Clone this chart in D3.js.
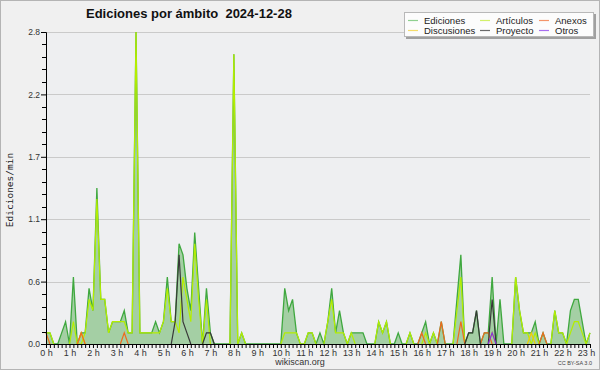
<!DOCTYPE html>
<html>
<head>
<meta charset="utf-8">
<script src="https://cdn.jsdelivr.net/npm/d3@7/dist/d3.min.js"></script>
<style>
  body { margin: 0; background: #fff; }
  svg { display: block; }
  text { font-family: "Liberation Sans", Arial, sans-serif; }
</style>
</head>
<body>
<div id="chart"></div>
<script>
// edits per minute, 10 minute buckets from 0:00
var ediciones = [
  0.1,0.1,0,0,0.1,0.2,0,0.6,0,0.1,0.1,0.5,
  0.3,1.4,0.4,0.4,0.1,0.2,0.2,0.2,0.3,0.1,0.1,2.8,
  0.1,0.1,0.1,0.1,0.2,0.1,0.2,0.6,0.2,0.2,0.9,0.8,
  0.5,0.3,1.0,0.5,0,0.5,0.1,0,0,0,0,0,
  2.6,0,0.1,0,0,0,0,0,0,0,0,0,
  0,0.5,0.3,0.4,0.1,0,0,0.1,0.1,0,0.1,0,
  0.2,0.5,0.1,0.3,0.1,0,0.1,0.1,0.1,0.1,0,0,
  0,0.2,0.1,0.2,0,0,0.1,0,0,0.1,0,0,
  0.1,0.2,0,0.1,0,0.2,0,0,0,0.4,0.8,0,
  0.1,0.1,0.3,0,0.1,0.1,0.6,0,0.4,0,0,0,
  0.6,0.3,0.1,0.1,0.1,0.2,0,0.1,0,0,0.3,0.1,
  0.1,0,0.3,0.4,0.4,0.2,0,0.1
];
var articulos = [
  0.1,0.1,0,0,0,0,0,0.2,0,0,0.1,0.4,
  0.3,1.3,0.4,0.4,0.1,0.2,0.2,0.2,0.2,0.1,0.1,2.8,
  0.1,0.1,0.1,0.1,0.1,0.1,0.2,0.5,0.2,0.2,0.1,0.6,
  0.4,0.2,0.9,0.4,0,0.4,0,0,0,0,0,0,
  2.6,0,0.1,0,0,0,0,0,0,0,0,0,
  0,0.1,0.1,0.1,0.1,0,0,0.1,0.1,0,0,0,
  0.2,0.4,0.1,0.1,0.1,0,0.1,0,0,0,0,0,
  0,0.2,0.1,0.2,0,0,0,0,0,0.1,0,0,
  0,0.1,0,0.1,0,0,0,0,0,0.3,0.6,0,
  0,0,0,0,0,0,0.1,0,0,0,0,0,
  0.6,0.3,0.1,0.1,0,0.1,0,0,0,0,0.3,0.1,
  0.1,0,0.1,0.2,0.2,0.1,0,0.1
];
var anexos = [
  0.1,0,0,0,0,0,0,0,0,0.1,0,0,
  0,0,0,0,0,0,0,0,0.1,0,0,0,
  0,0,0,0,0,0,0,0,0,0,0,0,
  0,0,0,0,0,0,0,0,0,0,0,0,
  0,0,0,0,0,0,0,0,0,0,0,0,
  0,0,0,0,0,0,0,0,0,0,0,0,
  0,0,0,0,0,0,0,0,0,0,0,0,
  0,0,0,0,0,0,0,0,0,0,0,0,
  0.1,0,0,0,0,0.2,0,0,0,0,0.2,0,
  0,0,0,0,0.1,0.1,0,0,0,0,0,0,
  0,0,0,0,0,0,0,0.1,0,0,0,0,
  0,0,0,0,0,0,0,0
];
var discusiones = [
  0,0,0,0,0,0,0,0,0,0.1,0,0,
  0,0,0,0,0,0,0,0,0,0,0,0,
  0,0,0,0,0,0,0,0,0,0,0,0,
  0,0,0,0,0,0,0,0,0,0,0,0,
  0,0,0,0,0,0,0,0,0,0,0,0,
  0,0,0,0,0,0,0,0,0,0,0,0,
  0,0,0,0,0,0,0,0,0,0,0,0,
  0,0,0,0,0,0,0,0,0,0,0,0,
  0,0,0,0,0,0,0,0,0,0,0,0,
  0,0,0,0,0,0,0,0,0,0,0,0,
  0,0,0,0,0.1,0,0,0,0,0,0,0,
  0,0,0,0,0,0,0,0
];
var proyecto = [
  0,0,0,0,0,0,0,0,0,0,0,0,
  0,0,0,0,0,0,0,0,0,0,0,0,
  0,0,0,0,0,0,0,0,0,0.2,0.8,0.2,
  0.1,0,0,0,0,0.1,0.1,0,0,0,0,0,
  0,0,0,0,0,0,0,0,0,0,0,0,
  0,0,0,0,0,0,0,0,0,0,0,0,
  0,0,0,0,0,0,0,0,0,0,0,0,
  0,0,0,0,0,0,0,0,0,0,0,0,
  0,0,0,0,0,0,0,0,0,0,0,0,
  0.1,0.1,0.3,0,0,0,0.4,0,0,0,0,0,
  0,0,0,0,0,0,0,0,0,0,0,0,
  0,0,0,0,0,0,0,0
];
var otros = [
  0,0,0,0,0,0,0,0,0,0,0,0,
  0,0,0,0,0,0,0,0,0,0,0,0,
  0,0,0,0,0,0,0,0,0,0,0,0,
  0,0,0,0,0,0,0,0,0,0,0,0,
  0,0,0,0,0,0,0,0,0,0,0,0,
  0,0,0,0,0,0,0,0,0,0,0,0,
  0,0,0,0,0,0,0,0,0,0,0,0,
  0,0,0,0,0,0,0,0,0,0,0,0,
  0,0,0,0,0,0,0,0,0,0,0,0,
  0,0,0,0,0,0,0.1,0,0,0,0,0,
  0,0,0,0,0,0,0,0,0,0,0,0,
  0,0,0,0,0,0,0,0
];
var hourLabels = ["0 h","1 h","2 h","3 h","4 h","5 h","6 h","7 h","8 h","9 h","10 h","11 h",
  "12 h","13 h","14 h","15 h","16 h","17 h","18 h","19 h","20 h","21 h","22 h","23 h"];
var yTickValues = [0, 0.56, 1.12, 1.68, 2.24, 2.8];
var seriesNames = ["Ediciones", "Discusiones", "Artículos", "Proyecto", "Anexos", "Otros"];
var seriesColors = ["#3fa83f", "#f0d000", "#b4ee00", "#383838", "#f06a1e", "#8a2be2"];
var legendColors = ["#8fd08f", "#f5dc6a", "#d2f06a", "#6a6a6a", "#f4946a", "#a86ef0"];

var W = 600, H = 370;
var margin = { top: 32, right: 10, bottom: 26, left: 46 };
var width = W - margin.left - margin.right;
var height = H - margin.top - margin.bottom;

var svg = d3.select("#chart").append("svg")
  .attr("width", W)
  .attr("height", H);

// outer frame
svg.append("rect").attr("x", 0).attr("y", 0).attr("width", W).attr("height", H).attr("fill", "#f0f0f0");
svg.append("rect").attr("x", 0.5).attr("y", 0.5).attr("width", W - 1).attr("height", H - 1)
  .attr("fill", "none").attr("stroke", "#b4b4b4");

var g = svg.append("g").attr("transform", "translate(" + margin.left + "," + margin.top + ")");

g.append("rect").attr("width", width).attr("height", height).attr("fill", "#eeeff1");

var xScale = d3.scaleLinear().domain([0, ediciones.length - 1]).range([0, width]);
var yScale = d3.scaleLinear().domain([0, 2.8]).range([height, 0]);

// grid
g.append("g").attr("class", "grid")
  .selectAll("line").data(yTickValues.slice(1)).enter().append("line")
  .attr("x1", 0).attr("x2", width)
  .attr("y1", function(d) { return Math.round(yScale(d)) + 0.5; })
  .attr("y2", function(d) { return Math.round(yScale(d)) + 0.5; })
  .attr("stroke", "#cacaca");

// series
var area = d3.area()
  .x(function(d, i) { return xScale(i); })
  .y0(height)
  .y1(function(d) { return yScale(d); });
var line = d3.line()
  .x(function(d, i) { return xScale(i); })
  .y(function(d) { return yScale(d); });

g.append("path").datum(ediciones).attr("d", area).attr("fill", "#a4cfa4");
g.append("path").datum(ediciones).attr("d", line).attr("fill", "none")
  .attr("stroke", seriesColors[0]).attr("stroke-width", 1.3);

var overlays = [
  [articulos, seriesColors[2]],
  [discusiones, seriesColors[1]],
  [anexos, seriesColors[4]],
  [proyecto, seriesColors[3]],
  [otros, seriesColors[5]]
];
overlays.forEach(function(s) {
  var vals = s[0];
  // only draw the stretches that leave the baseline
  var segs = [], cur = null;
  vals.forEach(function(v, i) {
    var near = v > 0 || (i > 0 && vals[i - 1] > 0) || (i < vals.length - 1 && vals[i + 1] > 0);
    if (near) { if (!cur) { cur = []; segs.push(cur); } cur.push(i); }
    else cur = null;
  });
  segs.forEach(function(seg) {
    g.append("path").datum(seg)
      .attr("d", d3.line()
        .x(function(i) { return xScale(i); })
        .y(function(i) { return yScale(vals[i]); }))
      .attr("fill", "none").attr("stroke", s[1]).attr("stroke-width", 1.2);
  });
});

// y axis
var yAxis = d3.axisLeft(yScale)
  .tickValues(yTickValues)
  .tickSize(5)
  .tickPadding(1)
  .tickFormat(d3.format(".1f"));
var yAxisG = g.append("g").attr("class", "yAxisG").call(yAxis);
yAxisG.select(".domain").attr("stroke", "#000");
yAxisG.selectAll(".tick line").attr("stroke", "#000");
yAxisG.selectAll(".tick text").attr("fill", "#333").style("font-size", "8.5px");
var minor = [];
yTickValues.forEach(function(v, i) {
  if (i == 0) return;
  for (var k = 1; k < 5; k++) minor.push(yTickValues[i - 1] + k * 0.112);
});
yAxisG.selectAll("line.minor").data(minor).enter().append("line")
  .attr("class", "minor")
  .attr("x1", -4).attr("x2", 0)
  .attr("y1", function(d) { return Math.round(yScale(d)) + 0.5; })
  .attr("y2", function(d) { return Math.round(yScale(d)) + 0.5; })
  .attr("stroke", "#000");

// x axis
var xAxis = d3.axisBottom(xScale)
  .tickValues(d3.range(0, ediciones.length))
  .tickSize(4)
  .tickPadding(2)
  .tickFormat(function(d) { return d % 6 == 0 ? hourLabels[d / 6] : ""; });
var xAxisG = g.append("g").attr("class", "xAxisG")
  .attr("transform", "translate(0," + height + ")")
  .call(xAxis);
xAxisG.select(".domain").attr("stroke", "#000");
xAxisG.selectAll(".tick line").attr("stroke", "#000");
xAxisG.selectAll(".tick text").attr("fill", "#333").style("font-size", "9px");

// titles
svg.append("text")
  .attr("x", 86).attr("y", 18)
  .style("font-size", "13px").style("font-weight", "bold")
  .style("white-space", "pre")
  .attr("fill", "#111")
  .text("Ediciones por ámbito  2024-12-28");
svg.append("text")
  .attr("transform", "translate(13," + (margin.top + height / 2 + 2) + ") rotate(-90)")
  .style("text-anchor", "middle")
  .style("font-family", "'DejaVu Sans Mono', monospace")
  .style("font-size", "9.5px")
  .attr("fill", "#222")
  .text("Ediciones/min");
svg.append("text")
  .attr("x", 300).attr("y", 365)
  .style("text-anchor", "middle").style("font-size", "9px")
  .attr("fill", "#333")
  .text("wikiscan.org");
svg.append("text")
  .attr("x", 592).attr("y", 365)
  .style("text-anchor", "end").style("font-size", "5.5px")
  .attr("fill", "#444")
  .text("CC BY-SA 3.0");

// legend
drawLegend();

function drawLegend() {
  var lg = svg.append("g").attr("class", "legend");
  lg.append("rect").attr("x", 406).attr("y", 14).attr("width", 190).attr("height", 25).attr("fill", "#a0a0a0");
  lg.append("rect").attr("x", 404.5).attr("y", 12.5).attr("width", 189).attr("height", 24)
    .attr("fill", "#fcfcfc").attr("stroke", "#b8b8b8");
  var colX = [408, 480, 539];
  var rowY = [20, 30];
  seriesNames.forEach(function(name, i) {
    var cx = colX[Math.floor(i / 2)], cy = rowY[i % 2];
    lg.append("line")
      .attr("x1", cx).attr("x2", cx + 10)
      .attr("y1", cy + 0.5).attr("y2", cy + 0.5)
      .attr("stroke", legendColors[i]).attr("stroke-width", 1.2);
    lg.append("text")
      .attr("x", cx + 16).attr("y", cy + 3.5)
      .style("font-size", "9.5px")
      .attr("fill", "#222")
      .text(name);
  });
}
</script>
</body>
</html>
